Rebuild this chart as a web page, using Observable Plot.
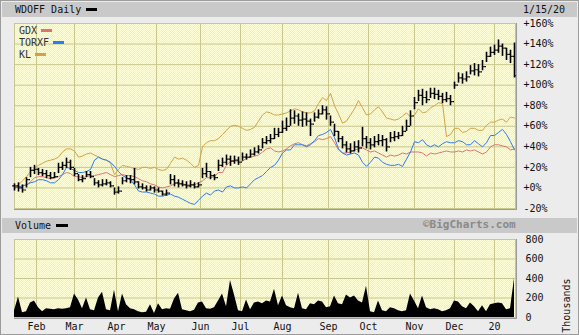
<!DOCTYPE html>
<html><head><meta charset="utf-8">
<script src="https://cdn.jsdelivr.net/npm/d3@7"></script>
<script src="https://cdn.jsdelivr.net/npm/@observablehq/plot@0.6"></script>
<style>
body{margin:0;background:#fff;}
#chart{position:relative;width:579px;height:335px;background:#ececec;overflow:hidden;font-family:"DejaVu Sans Mono",monospace;font-size:10px;color:#111;}
.band{position:absolute;left:2px;width:575px;height:15px;background:#c9c9c9;}
.pa{position:absolute;background-color:#fbf9c8;background-image:repeating-conic-gradient(#ffffd8 0% 25%, #f3f0bc 0% 50%);background-size:2px 2px;border-right:2px solid #9a9a9a;border-bottom:2px solid #9a9a9a;}
.t{position:absolute;line-height:10px;white-space:nowrap;}
.sw{position:absolute;height:3px;}
#outline{position:absolute;left:0;top:0;width:577px;height:333px;border:1px solid #9c9c9c;pointer-events:none;}
svg{position:absolute;left:0;}
</style></head>
<body>
<div id="chart">
  <div class="band" style="top:2px"></div>
  <div class="band" style="top:218px"></div>
  <div class="pa" style="left:14px;top:23px;width:501px;height:185px"></div>
  <div class="pa" style="left:14px;top:239px;width:501px;height:78px"></div>
</div>
<script>
// ---- data (every 2nd trading day, 2019-01-15 .. 2020-01-15), values in % change ----
const KL = [0,3,7,11,16,19,22,24,26,27, 28,30,35,38,38,36,30,31,33,34, 32,30,28,27,24,13,18,22,21,20,
  19,18,20,20,19,20,18,17,18,24, 30,28,29,27,24,20,22,40,44,46, 46,48,52,56,60,61,60,58,56,57,
  59,65,71,74,73,71,71,72,73,75, 77,76,74,73,73,75,82,88,85,92, 80,72,63,65,71,77,85,78,71,72,
  76,79,74,68,67,66,67,70,73,69, 71,77,73,74,78,80,83,82,50,52, 58,58,54,55,58,58,56,56,61,64,
  64,66,67,64,69,68];
const GDX = [0,1,2,3,6,10,11,11,10,9, 10,11,13,15,14,11,11,10,11,12, 12,13,14,15,13,11,12,13,12,12,
  11,9,7,6,4,3,1,0,1,2, 4,5,4,3,3,3,5,7,10,10, 11,15,15,22,26,27,25,26,29,30,
  31,32,35,38,39,36,35,36,38,41, 43,44,42,41,43,45,48,47,48,50, 44,37,34,34,35,37,38,39,37,35,
  36,34,32,30,32,31,32,34,33,35, 35,35,34,31,34,33,34,35,36,35, 35,36,35,37,36,37,35,33,35,40,
  42,42,41,40,37,38];
const TORXF = [0,1,2,3,5,6,8,8,7,5, 5,8,13,20,19,17,15,15,16,18, 27,30,28,27,25,21,16,12,10,8,
  3,-3,-4,-4,-5,-6,-8,-8,-7,-6, -8,-9,-11,-13,-15,-16,-12,-8,-5,-7, -3,-2,-4,1,2,0,0,1,0,4,
  8,10,12,16,20,22,27,34,37,37, 42,42,42,40,42,46,51,52,54,57, 49,38,34,32,33,34,32,25,21,25,
  30,29,25,23,22,22,23,21,28,35, 45,44,47,42,40,42,40,43,45,44, 44,46,45,42,42,46,43,40,44,51,
  51,54,57,52,45,37];
const WD_LOW = [-3,-4,-5,0,10,13,12,11,9,8, 9,14,17,19,17,11,6,5,10,9, 2,0,1,2,0,-7,-6,3,5,4,
  3,-1,-2,-4,-3,-5,-5,-8,-8,3, 1,0,1,-1,0,-1,0,9,10,8, 7,16,20,22,21,23,22,26,27,29,
  31,33,38,42,43,47,49,53,55,60, 62,60,59,60,50,64,67,71,66,60, 50,44,38,34,33,35,34,40,38,37,
  39,41,40,35,44,45,47,50,55,60, 76,84,80,82,87,86,85,82,83,80, 96,102,101,103,110,109,108,114,122,127,
  129,131,128,124,121,107];
const WD_HIGH = [4,5,3,10,20,22,19,18,17,15, 15,24,25,29,27,19,13,12,16,16, 9,7,8,8,6,0,1,10,12,12,
  19,6,4,2,2,1,0,-3,-2,13, 12,8,7,6,7,5,5,19,24,16, 13,27,29,32,31,31,30,34,33,37,
  39,41,48,50,52,58,58,65,68,76, 75,72,74,73,67,73,76,80,79,70, 62,55,50,45,43,45,46,59,50,48,
  50,52,51,48,54,55,54,60,66,75, 88,95,96,94,97,97,95,92,93,90, 103,112,111,113,119,121,120,124,132,137,
  139,144,140,136,134,141];
const WD_CLOSE = [2,0,-2,8,17,18,15,14,12,10, 11,20,22,25,20,14,8,9,13,11, 5,3,4,5,2,-4,-3,7,9,8,
  6,1,0,-2,0,-2,-3,-6,-5,8, 5,4,3,2,3,1,3,14,16,12, 10,22,25,28,26,27,25,30,30,33,
  35,37,44,46,48,52,54,58,60,68, 70,66,67,65,62,69,72,76,72,64, 55,48,42,38,36,40,39,48,44,42,
  45,46,47,40,49,50,51,55,60,70, 83,90,88,86,92,91,89,86,87,84, 100,107,106,108,114,115,113,118,128,132,
  134,138,136,130,128,109];
const VOLUME = [70,210,50,60,150,170,100,60,90,85, 80,90,85,90,100,240,180,90,200,80, 70,200,260,80,70,280,60,240,130,90,
  80,60,50,55,130,40,140,80,90,85, 190,250,80,70,60,75,150,160,90,85, 100,170,240,110,380,230,70,60,180,80,
  150,160,140,170,160,290,120,220,120,100, 90,250,90,80,140,130,170,160,100,110, 220,140,130,230,200,220,170,150,320,60,
  50,170,70,60,100,90,70,60,70,240, 170,90,220,100,80,90,80,60,70,90, 170,160,110,90,150,110,60,120,60,130,
  140,150,140,80,90,400];
const monthDays = [11,30,51,71,93,113,134,157,177,200,220,240];
const monthLabels = ["Feb","Mar","Apr","May","Jun","Jul","Aug","Sep","Oct","Nov","Dec","20"];
const pctTicks = [-20,0,20,40,60,80,100,120,140,160];
const volTicks = [0,200,400,600,800];
const seriesNames = ["GDX","TORXF","KL"];
const seriesColors = ["#dc7474","#2a7cf4","#d4a244"];

const STEP = 2; // trading days between samples
const rows = KL.map((v, i) => ({
  day: i * STEP, KL: v, GDX: GDX[i], TORXF: TORXF[i],
  lo: WD_LOW[i], hi: WD_HIGH[i], close: WD_CLOSE[i],
  prevClose: i ? WD_CLOSE[i - 1] : WD_CLOSE[0], vol: VOLUME[i]
}));
const GRID = "#c9c68e";
const FONT = '"DejaVu Sans Mono", monospace';
const labelOf = new Map(monthDays.map((d, i) => [d, monthLabels[i]]));
const xDom = [0, 250.5];
const baseStyle = {background: "transparent", fontFamily: FONT, fontSize: "10px", color: "#111", overflow: "visible"};

const main = Plot.plot({
  width: 579, height: 215,
  marginLeft: 14, marginRight: 64, marginTop: 23, marginBottom: 7,
  style: baseStyle,
  x: {domain: xDom, axis: null, label: null},
  y: {domain: [-20, 160], axis: null, label: null},
  marks: [
    Plot.gridX({ticks: monthDays, stroke: GRID, strokeOpacity: 1}),
    Plot.gridY({ticks: pctTicks, stroke: GRID, strokeOpacity: 1}),
    Plot.frame({stroke: GRID}),
    Plot.axisY({ticks: pctTicks, anchor: "right", tickSize: 0, tickPadding: 8, label: null,
      tickFormat: d => (d >= 0 ? "+" : "") + d + "%", fill: "#111"}),
    Plot.line(rows, {x: "day", y: "KL", stroke: seriesColors[2], strokeWidth: 1}),
    Plot.line(rows, {x: "day", y: "GDX", stroke: seriesColors[0], strokeWidth: 1}),
    Plot.line(rows, {x: "day", y: "TORXF", stroke: seriesColors[1], strokeWidth: 1}),
    Plot.ruleX(rows, {x: "day", y1: "lo", y2: "hi", stroke: "#000", strokeWidth: 1.6}),
    Plot.ruleY(rows, {y: "close", x1: "day", x2: d => d.day + 0.9, stroke: "#000", strokeWidth: 1.2}),
    Plot.ruleY(rows, {y: "prevClose", x1: d => d.day - 0.9, x2: "day", stroke: "#000", strokeWidth: 1.2})
  ]
});
main.style.top = "0px";

const vol = Plot.plot({
  width: 579, height: 102,
  marginLeft: 14, marginRight: 64, marginTop: 6, marginBottom: 18,
  style: baseStyle,
  x: {domain: xDom, axis: null, label: null},
  y: {domain: [0, 800], axis: null, label: null},
  marks: [
    Plot.gridX({ticks: monthDays, stroke: GRID, strokeOpacity: 1}),
    Plot.gridY({ticks: volTicks, stroke: GRID, strokeOpacity: 1}),
    Plot.frame({stroke: GRID}),
    Plot.areaY(rows, {x: "day", y: "vol", fill: "#000"}),
    Plot.axisX({ticks: monthDays, anchor: "bottom", tickSize: 0, tickPadding: 5, label: null,
      tickFormat: d => labelOf.get(d), fill: "#111"}),
    Plot.axisY({ticks: volTicks, anchor: "right", tickSize: 0, tickPadding: 10, label: null, fill: "#111"}),
    Plot.text(["Thousands"], {frameAnchor: "right", dx: 51, rotate: -90, fill: "#111", fontSize: 10})
  ]
});
vol.style.top = "233px";

const chart = document.getElementById("chart");
chart.appendChild(main);
chart.appendChild(vol);

function addText(txt, left, top, extra) {
  const s = document.createElement("div");
  s.className = "t"; s.textContent = txt;
  s.style.left = left + "px"; s.style.top = top + "px";
  Object.assign(s.style, extra || {});
  chart.appendChild(s);
  return s;
}
function addSwatch(left, top, w, color) {
  const s = document.createElement("div");
  s.className = "sw";
  Object.assign(s.style, {left: left + "px", top: top + "px", width: w + "px", background: color});
  chart.appendChild(s);
}
addText("WDOFF Daily", 15, 4.5, {color: "#111"});
addSwatch(86, 8, 11, "#000");
addText("1/15/20", 523, 4.5, {color: "#111"});
addText("Volume", 15, 220.5, {color: "#111"});
addSwatch(56, 224, 12, "#000");
addText("\u00A9BigCharts.com", 423, 220, {color: "#8a8a8a", fontWeight: "bold", fontSize: "11px"});
// legend
const legTop = [25.5, 37.5, 49.5];
seriesNames.forEach((n, i) => {
  addText(n, 19, legTop[i], {color: "#333"});
  addSwatch(19 + n.length * 6 + 4, legTop[i] + 3.5, 11, seriesColors[i]);
});
const ol = document.createElement("div"); ol.id = "outline"; chart.appendChild(ol);
</script>
</body></html>
